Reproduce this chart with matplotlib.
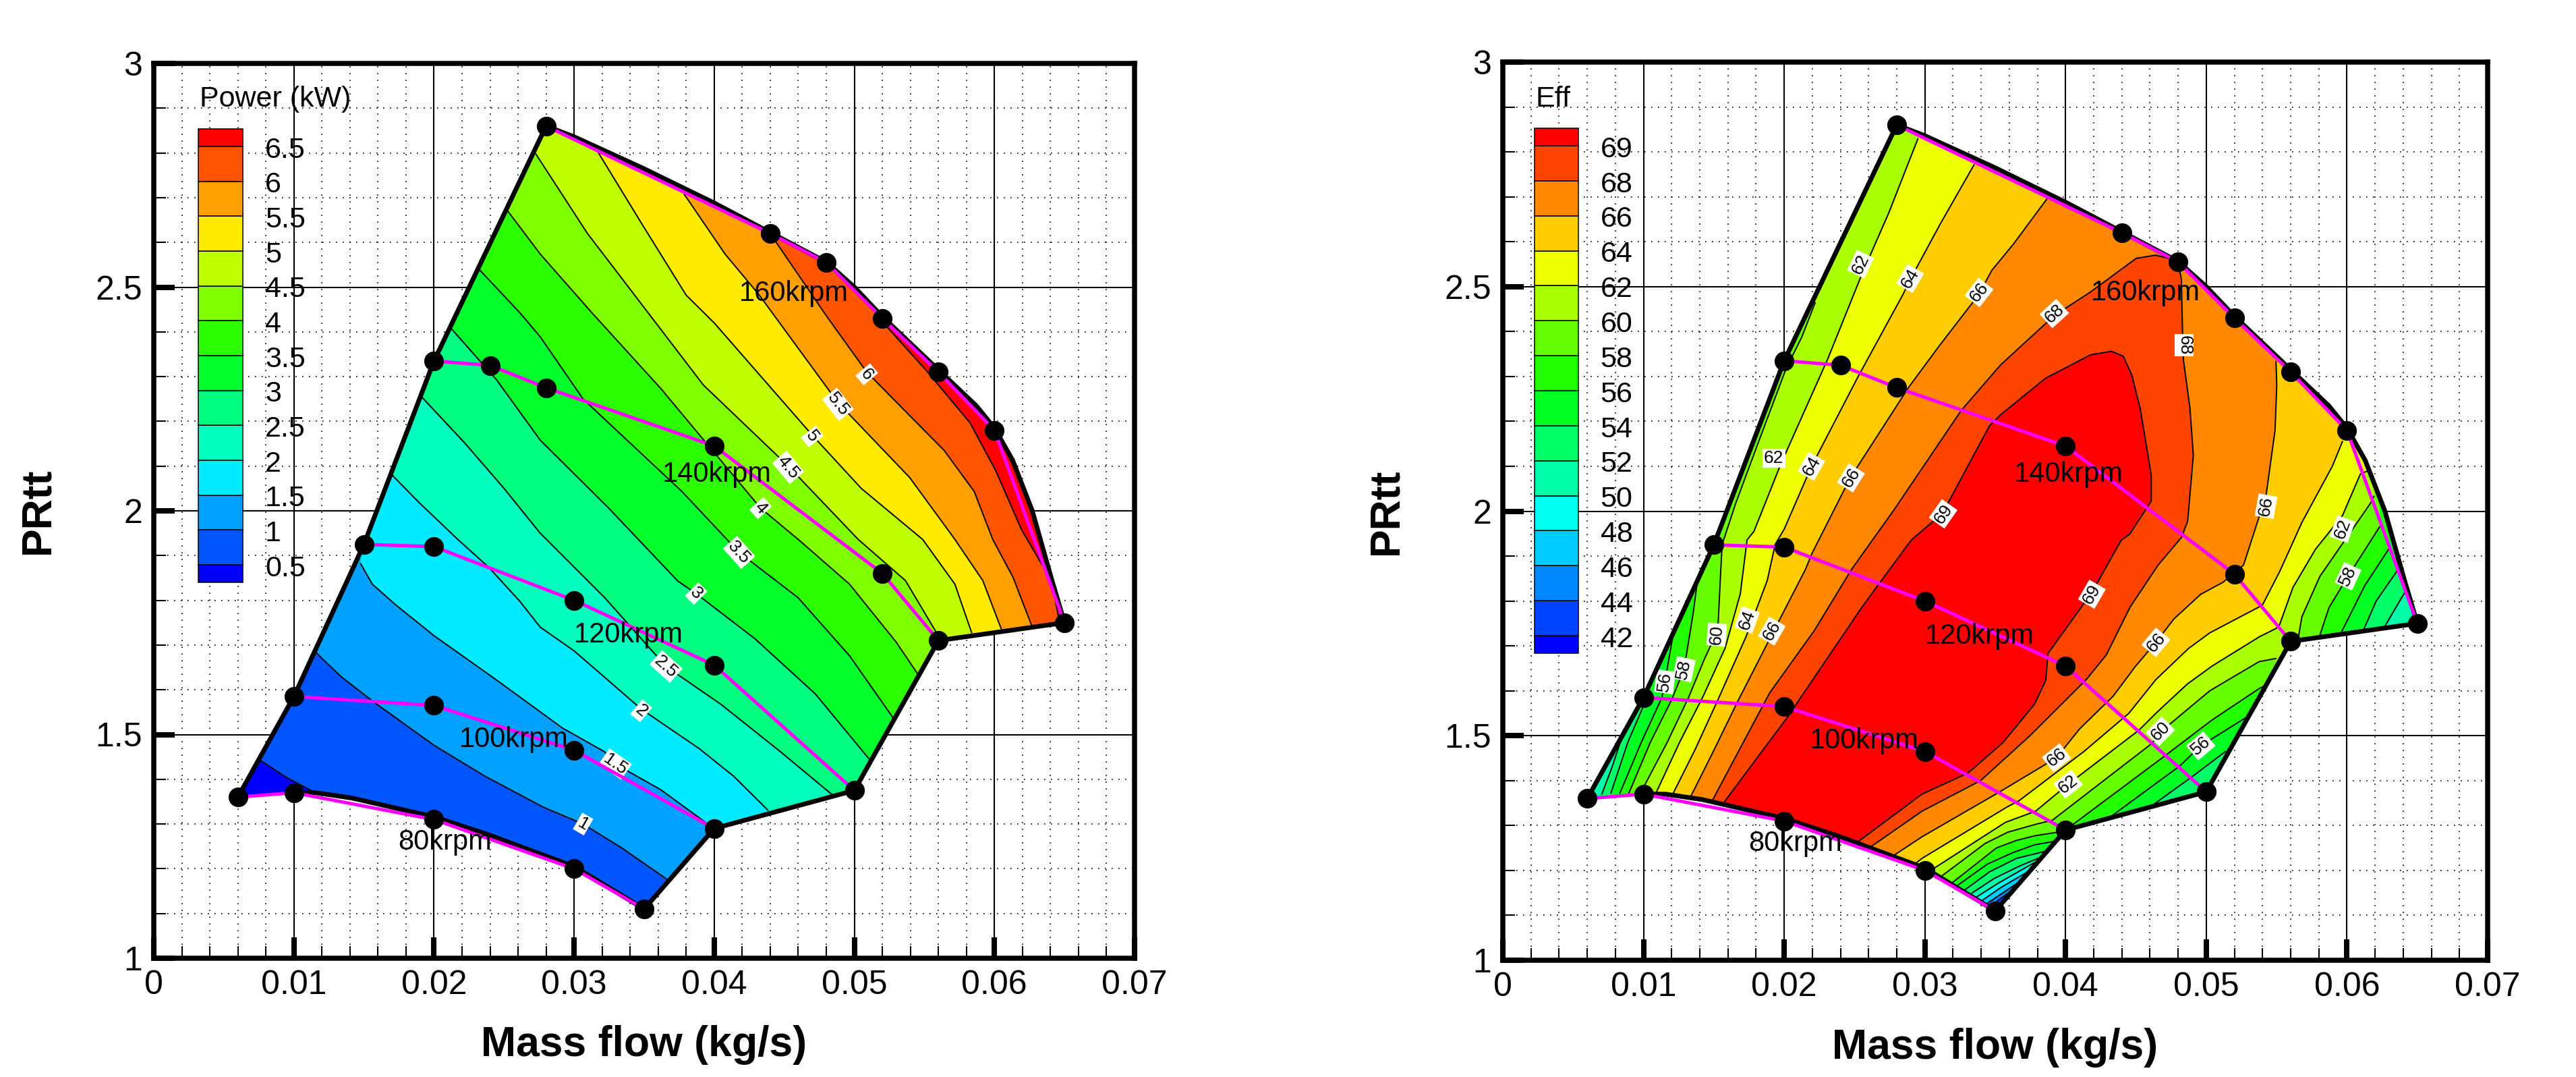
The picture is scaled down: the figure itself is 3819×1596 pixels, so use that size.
import matplotlib
matplotlib.use('Agg')
import matplotlib.pyplot as plt
from matplotlib.patches import Polygon
from matplotlib.ticker import MultipleLocator, FixedLocator, FixedFormatter

plt.rcParams['font.family'] = ['Liberation Sans', 'DejaVu Sans']

WIDTH, HEIGHT = 3819, 1596

# Speed lines (mass flow, PRtt)
SPEED_80 = [(0.006, 1.36), (0.01, 1.37), (0.02, 1.31), (0.03, 1.20), (0.035, 1.11)]
SPEED_100 = [(0.01, 1.585), (0.02, 1.565), (0.03, 1.465), (0.04, 1.29)]
SPEED_120 = [(0.015, 1.925), (0.02, 1.92), (0.03, 1.80), (0.04, 1.655), (0.05, 1.375)]
SPEED_140 = [(0.02, 2.335), (0.024, 2.325), (0.028, 2.275), (0.04, 2.145), (0.052, 1.86), (0.056, 1.71)]
SPEED_160 = [(0.028, 2.86), (0.044, 2.62), (0.048, 2.555), (0.052, 2.43), (0.056, 2.31), (0.06, 2.18), (0.065, 1.75)]
SPEED_NAMES = ['160krpm', '140krpm', '120krpm', '100krpm', '80krpm']
SPEED_NAME_X = [0.0457, 0.0402, 0.0339, 0.0257, 0.0208]
SPEED_NAME_Y = [2.486, 2.082, 1.722, 1.488, 1.26]

# Outline of the map
BOUND_X = [0.006, 0.01, 0.015, 0.02, 0.028, 0.03, 0.0349, 0.04, 0.044, 0.048, 0.05, 0.052, 0.056, 0.0587, 0.06,
           0.0613, 0.0627, 0.0641, 0.065, 0.056, 0.05, 0.04, 0.035, 0.03, 0.0238, 0.02, 0.01415, 0.01155, 0.01]
BOUND_Y = [1.36, 1.585, 1.925, 2.335, 2.86, 2.836, 2.766, 2.688, 2.622, 2.556, 2.5, 2.434, 2.315, 2.235, 2.185,
           2.113, 2.0, 1.845, 1.75, 1.71, 1.375, 1.29, 1.11, 1.205, 1.277, 1.316, 1.358, 1.37, 1.37]

# Power contours
P05 = [(0.00762, 1.442), (0.0095, 1.4035), (0.01158, 1.369)]
P10 = [(0.01158, 1.683), (0.01338, 1.629), (0.01573, 1.572), (0.02, 1.476), (0.02363, 1.407), (0.02778, 1.338),
       (0.03064, 1.30), (0.0334, 1.2465), (0.03669, 1.175)]
P15 = [(0.01476, 1.882), (0.0156, 1.836), (0.01726, 1.79), (0.02, 1.721), (0.02446, 1.622), (0.02917, 1.5145),
       (0.0322, 1.461), (0.03294, 1.434), (0.03617, 1.377), (0.03954, 1.30)]
P20 = [(0.01704, 2.079), (0.01892, 2.019), (0.0217, 1.936), (0.0239, 1.874), (0.02612, 1.798), (0.02758, 1.74),
       (0.03, 1.687), (0.03479, 1.557), (0.03893, 1.4685), (0.04138, 1.407), (0.04383, 1.331)]
P25 = [(0.01914, 2.254), (0.02224, 2.15), (0.025, 2.05), (0.02758, 1.95), (0.03218, 1.806), (0.03656, 1.652),
       (0.04046, 1.568), (0.04475, 1.461), (0.04844, 1.365)]
P30 = [(0.02127, 2.406), (0.02446, 2.293), (0.02758, 2.158), (0.0325, 2.005), (0.0374, 1.843), (0.03871, 1.815),
       (0.04291, 1.714), (0.04721, 1.591), (0.05104, 1.446)]
P35 = [(0.0233, 2.537), (0.02612, 2.443), (0.02758, 2.389), (0.03064, 2.25), (0.0377, 2.043), (0.04178, 1.907),
       (0.04598, 1.806), (0.04966, 1.676), (0.05273, 1.539)]
P40 = [(0.02529, 2.669), (0.02758, 2.574), (0.03126, 2.443), (0.03617, 2.274), (0.04331, 2.006), (0.046, 1.936),
       (0.04966, 1.836), (0.053, 1.706), (0.05451, 1.636)]
P45 = [(0.02728, 2.797), (0.03095, 2.62), (0.03923, 2.281), (0.04528, 2.10), (0.05028, 1.936), (0.05365, 1.844),
       (0.0558, 1.731)]
P50 = [(0.03172, 2.801), (0.03494, 2.636), (0.038, 2.482), (0.04, 2.42), (0.047, 2.169), (0.0505, 2.05),
       (0.05488, 1.936), (0.05718, 1.836), (0.05837, 1.728)]
P55 = [(0.03785, 2.708), (0.04077, 2.574), (0.04322, 2.482), (0.04883, 2.242), (0.05396, 2.074), (0.05718, 1.936),
       (0.05917, 1.844), (0.0605, 1.735)]
P60 = [(0.04399, 2.62), (0.048, 2.436), (0.05089, 2.31), (0.05641, 2.135), (0.05856, 2.043), (0.05988, 1.936),
       (0.06132, 1.852), (0.06264, 1.745)]
P65 = [(0.05196, 2.424), (0.05518, 2.312), (0.05825, 2.197), (0.06009, 2.09), (0.06193, 1.958), (0.06408, 1.843),
       (0.06454, 1.767)]

POWER_TICKS = ['0.5', '1', '1.5', '2', '2.5', '3', '3.5', '4', '4.5', '5', '5.5', '6', '6.5']
POWER_COLORS = ['#0000ff', '#0055ff', '#00a0ff', '#00ebff', '#00ffbf', '#00ff80', '#00ff2b', '#2bff00',
                '#80ff00', '#bfff00', '#ffeb00', '#ffa000', '#ff5500', '#ff0000']
POWER_LINES = [P05, P10, P15, P20, P25, P30, P35, P40, P45, P50, P55, P60, P65]
POWER_LABELS = ['1', '1.5', '2', '2.5', '3', '3.5', '4', '4.5', '5', '5.5', '6']
POWER_LABEL_X = [0.03064, 0.03294, 0.03479, 0.03656, 0.03871, 0.04178, 0.04331, 0.04528, 0.047, 0.04883, 0.05089]
POWER_LABEL_Y = [1.30, 1.434, 1.553, 1.652, 1.815, 1.907, 2.006, 2.097, 2.166, 2.238, 2.305]
POWER_LABEL_ROT = [-30, -35, -40, -42, -45, -48, -48, -50, -52, -52, -50]

# Efficiency contours
E44 = [(0.03612, 1.154), (0.03524, 1.134), (0.03468, 1.117)]
E46 = [(0.03668, 1.174), (0.0354, 1.147), (0.0342, 1.122)]
E48 = [(0.03731, 1.197), (0.0354, 1.162), (0.03388, 1.129)]
E50 = [(0.03787, 1.219), (0.03524, 1.172), (0.03348, 1.137)]
E52_WEDGE = [(0.03827, 1.23), (0.03668, 1.209), (0.03492, 1.182), (0.03308, 1.144)]
E52_LEFT = [(0.00704, 1.37), (0.00776, 1.43), (0.0084, 1.49)]
E52_RIGHT = [(0.06407, 1.817), (0.06272, 1.745)]
E54_WEDGE = [(0.03875, 1.244), (0.03652, 1.227), (0.0346, 1.197), (0.03268, 1.153)]
E54_LEFT = [(0.00768, 1.372), (0.00888, 1.485), (0.00998, 1.565), (0.0101, 1.578)]
E54_RIGHT = [(0.06352, 1.865), (0.06208, 1.80), (0.0612, 1.737)]
E54_LOW = [(0.05137, 1.465), (0.04905, 1.41), (0.04626, 1.347)]
E56_WEDGE = [(0.03923, 1.265), (0.03779, 1.257), (0.0362, 1.239), (0.03444, 1.214), (0.0322, 1.164)]
E56_LEFT = [(0.00832, 1.372), (0.00984, 1.485), (0.01131, 1.585), (0.0116, 1.635), (0.01205, 1.715), (0.01216, 1.733)]
E56_RIGHT = [(0.06296, 1.915), (0.06128, 1.835), (0.0596, 1.73)]
E56_LOW = [(0.0528, 1.54), (0.04961, 1.4775), (0.04809, 1.432), (0.04322, 1.32)]
E58_MID = [(0.0542, 1.612), (0.05376, 1.605), (0.05041, 1.535), (0.04714, 1.457), (0.04051, 1.302), (0.03939, 1.285),
           (0.03779, 1.277), (0.03652, 1.267), (0.03508, 1.25), (0.0318, 1.169)]
E58_LEFT = [(0.00896, 1.372), (0.01048, 1.485), (0.012, 1.58), (0.01288, 1.648), (0.01352, 1.771), (0.01384, 1.846)]
E58_RIGHT = [(0.06232, 1.965), (0.06008, 1.855), (0.05872, 1.785), (0.05808, 1.724)]
E60_MID = [(0.05495, 1.672), (0.05376, 1.665), (0.05025, 1.6), (0.04738, 1.525), (0.04602, 1.48), (0.03907, 1.312),
           (0.03779, 1.302), (0.03588, 1.285), (0.03428, 1.26), (0.03117, 1.187)]
E60_LEFT = [(0.01, 1.385), (0.01168, 1.485), (0.0132, 1.585), (0.01432, 1.67), (0.01528, 1.735), (0.01552, 1.886),
            (0.01559, 1.926), (0.01656, 2.018), (0.01821, 2.157), (0.02014, 2.318), (0.02124, 2.387), (0.0222, 2.464)]
E60_RIGHT = [(0.06192, 2.033), (0.06168, 2.018), (0.05808, 1.855), (0.0568, 1.765), (0.05656, 1.722)]
E62_LEFT = [(0.01088, 1.372), (0.01256, 1.485), (0.01424, 1.588), (0.0158, 1.695), (0.01688, 1.816), (0.01736, 1.936),
            (0.01785, 1.955), (0.01976, 2.105), (0.02311, 2.34), (0.0255, 2.526), (0.02743, 2.664), (0.0295, 2.829)]
E62_RIGHT = [(0.0615, 2.09), (0.06096, 2.083), (0.05968, 1.99), (0.05776, 1.915), (0.05616, 1.83), (0.05521, 1.747),
             (0.05497, 1.739), (0.05376, 1.72), (0.05041, 1.655), (0.04865, 1.615), (0.04642, 1.55), (0.04522, 1.5125),
             (0.04019, 1.392), (0.03787, 1.332), (0.03572, 1.307), (0.03061, 1.204)]
E64_LEFT = [(0.01208, 1.37), (0.01368, 1.47), (0.01536, 1.585), (0.01728, 1.72), (0.0188, 1.846), (0.01936, 1.926),
            (0.02, 1.96), (0.02196, 2.101), (0.02526, 2.30), (0.02845, 2.483), (0.02896, 2.516), (0.0311, 2.64),
            (0.03349, 2.771)]
E64_RIGHT = [(0.05968, 2.155), (0.05896, 2.10), (0.0568, 1.975), (0.05521, 1.865), (0.05401, 1.792), (0.05377, 1.787),
             (0.05025, 1.729), (0.04873, 1.694), (0.04642, 1.625), (0.0445, 1.55), (0.04131, 1.465), (0.03668, 1.355),
             (0.03588, 1.342), (0.0298, 1.227), (0.0292, 1.212)]
E66_LEFT = [(0.01336, 1.365), (0.01496, 1.465), (0.01672, 1.578), (0.01896, 1.715), (0.02152, 1.871), (0.02199, 1.907),
            (0.02471, 2.075), (0.02885, 2.276), (0.03109, 2.371), (0.0338, 2.481), (0.03475, 2.536), (0.0363, 2.595),
            (0.03869, 2.696)]
E66_RIGHT = [(0.05496, 2.333), (0.05501, 2.28), (0.05489, 2.18), (0.05425, 2.035), (0.05265, 1.88), (0.05121, 1.842),
             (0.04961, 1.815), (0.0477, 1.76), (0.04642, 1.708), (0.04498, 1.655), (0.04338, 1.588), (0.04099, 1.515),
             (0.03936, 1.451), (0.03532, 1.375), (0.0298, 1.275), (0.02784, 1.2345)]
E68 = [(0.01488, 1.355), (0.01896, 1.595), (0.02216, 1.735), (0.0248, 1.871), (0.02774, 2.0), (0.0326, 2.225),
       (0.03539, 2.326), (0.03922, 2.436), (0.04177, 2.488), (0.04502, 2.563), (0.04639, 2.57), (0.04798, 2.558),
       (0.04823, 2.516), (0.04832, 2.39), (0.04838, 2.336), (0.04884, 2.23), (0.04908, 2.124), (0.04868, 1.978),
       (0.04825, 1.942), (0.04658, 1.88), (0.04458, 1.786), (0.0429, 1.68), (0.04147, 1.625), (0.03747, 1.5),
       (0.03396, 1.40), (0.0298, 1.332), (0.02624, 1.2545)]
E69 = [(0.01568, 1.35), (0.0202, 1.54), (0.0255, 1.785), (0.0268, 1.841), (0.02904, 1.936), (0.03125, 1.995),
       (0.03459, 2.19), (0.03539, 2.215), (0.03858, 2.296), (0.04177, 2.348), (0.04327, 2.356), (0.0441, 2.345),
       (0.04471, 2.303), (0.04532, 2.226), (0.04609, 2.08), (0.04609, 2.022), (0.04456, 1.949), (0.04395, 1.935),
       (0.04187, 1.819), (0.03875, 1.683), (0.03859, 1.623), (0.03779, 1.57), (0.03556, 1.485), (0.03308, 1.417),
       (0.0298, 1.37), (0.02528, 1.2645)]

EFF_TICKS = ['42', '44', '46', '48', '50', '52', '54', '56', '58', '60', '62', '64', '66', '68', '69']
EFF_COLORS = ['#0000ff', '#0044ff', '#0088ff', '#00ccff', '#00ffee', '#00ffaa', '#00ff66', '#00ff22',
              '#22ff00', '#66ff00', '#aaff00', '#eeff00', '#ffcc00', '#ff8800', '#ff4400', '#ff0000']
# Contours that cut off a low corner, then left side + lower side pairs, then caps around the peak
EFF_CORNERS = [E44, E46, E48, E50]
EFF_SIDES = [(E52_LEFT, [E52_RIGHT, E52_WEDGE]), (E54_LEFT, [E54_RIGHT, E54_LOW, E54_WEDGE]),
             (E56_LEFT, [E56_RIGHT, E56_LOW, E56_WEDGE]), (E58_LEFT, [E58_RIGHT, E58_MID]),
             (E60_LEFT, [E60_RIGHT, E60_MID]), (E62_LEFT, [E62_RIGHT]), (E64_LEFT, [E64_RIGHT]),
             (E66_LEFT, [E66_RIGHT])]
EFF_CAPS = [E68, E69]
EFF_LABELS = ['62', '64', '62', '64', '66', '69', '66', '68', '68', '66', '56', '58', '60', '64', '66', '69', '66',
              '66', '62', '60', '56', '62', '58']
EFF_LABEL_X = [0.02543, 0.02895, 0.01926, 0.02193, 0.02474, 0.0313, 0.03385, 0.0392, 0.04844, 0.05425, 0.01152,
               0.01288, 0.0152, 0.01736, 0.01912, 0.04187, 0.04642, 0.03936, 0.04019, 0.04674, 0.04961, 0.05968, 0.06008]
EFF_LABEL_Y = [2.55, 2.518, 2.118, 2.10, 2.074, 1.994, 2.487, 2.44, 2.37, 2.011, 1.62, 1.648, 1.725, 1.758, 1.733,
               1.815, 1.708, 1.451, 1.392, 1.51, 1.4775, 1.96, 1.855]
EFF_LABEL_ROT = [65, 60, 0, 60, 58, 55, 52, 42, -90, 80, 82, 78, 85, 70, 60, 60, 50, 38, 38, 45, 40, 70, 65]

X_TICKS = [0, 0.01, 0.02, 0.03, 0.04, 0.05, 0.06, 0.07]
X_TICK_LABELS = ['0', '0.01', '0.02', '0.03', '0.04', '0.05', '0.06', '0.07']
Y_TICKS = [1, 1.5, 2, 2.5, 3]
Y_TICK_LABELS = ['1', '1.5', '2', '2.5', '3']

# Far outside the map, only used to close fill regions that get clipped to the outline
FAR_LOW, FAR_HIGH, FAR_LEFT, FAR_RIGHT = 0.5, 4, -0.1, 0.2


def px_box(left, top, right, bottom):
    return [left / WIDTH, 1 - bottom / HEIGHT, (right - left) / WIDTH, (bottom - top) / HEIGHT]


def above_line(pts):
    """Region on the high side of a contour running from upper left to lower right"""
    return pts + [(pts[-1][0], FAR_LOW), (FAR_RIGHT, FAR_LOW), (FAR_RIGHT, FAR_HIGH), (pts[0][0], FAR_HIGH)]


def off_corner(pts):
    """Everything except the corner that the contour cuts off"""
    return [(FAR_RIGHT, FAR_HIGH), (FAR_RIGHT, FAR_LOW), (pts[0][0], FAR_LOW)] + pts + \
        [(pts[-1][0], FAR_LOW), (FAR_LEFT, FAR_LOW), (FAR_LEFT, FAR_HIGH)]


def between_sides(left, lower_parts):
    """Region right of the left contour and above the lower pieces"""
    path = left + [(left[-1][0], FAR_HIGH), (lower_parts[0][0][0], FAR_HIGH)]
    for i, part in enumerate(lower_parts):
        if i > 0:
            path.append((part[0][0], FAR_LOW))
        path += part + [(part[-1][0], FAR_LOW)]
    path.append((left[0][0], FAR_LOW))
    return path


def under_cap(pts):
    """Region enclosed by a contour with both ends on the lower edge"""
    return pts + [(pts[-1][0], FAR_LOW), (pts[0][0], FAR_LOW)]


def draw_legend(fig, box, title, title_xy, colors, ticks):
    """Stacked colour cells with half height end cells"""
    cax = fig.add_axes(px_box(*box))
    cax.set_axis_off()
    cax.set_xlim(0, 1)
    cax.set_ylim(0, len(ticks))
    bottom = 0
    for i, color in enumerate(colors):
        h = 0.5 if i in (0, len(colors) - 1) else 1
        cax.bar(0.5, h, width=1, bottom=bottom, color=color, edgecolor='black', linewidth=1.1, clip_on=False)
        bottom += h
    for i, tick in enumerate(ticks):
        cax.text(1.5, i + 0.5 - 0.11, tick, fontsize=31, ha='left', va='center', clip_on=False)
    fig.text(title_xy[0] / WIDTH, 1 - title_xy[1] / HEIGHT, title, fontsize=31, ha='left', va='center')


def draw_panel(fig, box, regions, colors, lines, labels, label_x, label_y, label_rot):
    ax = fig.add_axes(px_box(*box))
    ax.set_xlim(0, 0.07)
    ax.set_ylim(1, 3)

    # Paint the bands from low to high, each clipped to the outline
    outline = Polygon(list(zip(BOUND_X, BOUND_Y)), closed=True, facecolor=colors[0], edgecolor='none', zorder=2)
    ax.add_patch(outline)
    for region, color in zip(regions, colors[1:]):
        band = Polygon(region, closed=True, facecolor=color, edgecolor='none', zorder=2)
        ax.add_patch(band)
        band.set_clip_path(outline)

    for pts in lines:
        ax.plot([p[0] for p in pts], [p[1] for p in pts], color='black', linewidth=1.4, zorder=3)
    for text, x, y, rot in zip(labels, label_x, label_y, label_rot):
        ax.text(x, y, text, fontsize=19, rotation=rot, rotation_mode='anchor', ha='center', va='center', zorder=4,
                bbox=dict(facecolor='white', edgecolor='none', pad=1.5))

    # Outline stays open along the first part of the 80krpm line
    ax.plot(BOUND_X, BOUND_Y, color='black', linewidth=5, solid_joinstyle='round', zorder=5)
    for speed in [SPEED_80, SPEED_100, SPEED_120, SPEED_140, SPEED_160]:
        sx = [p[0] for p in speed]
        sy = [p[1] for p in speed]
        ax.plot(sx, sy, color='#ff00ff', linewidth=3.6, zorder=6)
        ax.plot(sx, sy, linestyle='none', marker='o', markersize=20, color='black', zorder=7)
    for name, x, y in zip(SPEED_NAMES, SPEED_NAME_X, SPEED_NAME_Y):
        ax.text(x, y, name, fontsize=30, ha='center', va='center', zorder=8)

    ax.xaxis.set_major_locator(FixedLocator(X_TICKS))
    ax.xaxis.set_major_formatter(FixedFormatter(X_TICK_LABELS))
    ax.yaxis.set_major_locator(FixedLocator(Y_TICKS))
    ax.yaxis.set_major_formatter(FixedFormatter(Y_TICK_LABELS))
    ax.xaxis.set_minor_locator(MultipleLocator(0.002))
    ax.yaxis.set_minor_locator(MultipleLocator(0.1))
    ax.tick_params(which='major', direction='in', length=22, width=5.8, labelsize=36)
    ax.tick_params(which='minor', direction='in', length=13, width=1.5)
    ax.tick_params(axis='x', which='major', pad=12)
    ax.tick_params(axis='y', which='major', pad=12)

    ax.set_axisbelow(True)
    ax.grid(True, which='major', color='black', linewidth=1.5)
    ax.grid(True, which='minor', color='black', linewidth=1.2, linestyle=(0, (1, 5)))
    for spine in ax.spines.values():
        spine.set_linewidth(5.4)
        spine.set_zorder(10)

    ax.set_xlabel('Mass flow (kg/s)', fontsize=45, fontweight='bold')
    ax.set_ylabel('PRtt', fontsize=45, fontweight='bold')
    ax.xaxis.set_label_coords(0.5, -0.075)
    ax.yaxis.set_label_coords(-0.0984, 0.5)
    return ax


fig = plt.figure(figsize=(WIDTH / 100, HEIGHT / 100), dpi=100)

power_regions = [above_line(pts) for pts in POWER_LINES]
draw_panel(fig, (228, 94, 1682, 1420), power_regions, POWER_COLORS, POWER_LINES,
           POWER_LABELS, POWER_LABEL_X, POWER_LABEL_Y, POWER_LABEL_ROT)

eff_regions = [off_corner(pts) for pts in EFF_CORNERS]
eff_regions += [between_sides(left, lower) for left, lower in EFF_SIDES]
eff_regions += [under_cap(pts) for pts in EFF_CAPS]
eff_lines = list(EFF_CORNERS) + list(EFF_CAPS)
for left, lower in EFF_SIDES:
    eff_lines += [left] + lower
# No contour at 42 inside the map, the tip starts from the 42-44 colour
draw_panel(fig, (2228, 92, 3688, 1423), eff_regions, EFF_COLORS[1:], eff_lines,
           EFF_LABELS, EFF_LABEL_X, EFF_LABEL_Y, EFF_LABEL_ROT)

draw_legend(fig, (294, 191, 360, 863), 'Power (kW)', (296, 147), POWER_COLORS, POWER_TICKS)
draw_legend(fig, (2275, 190, 2340, 968), 'Eff', (2277, 147), EFF_COLORS, EFF_TICKS)

fig.savefig('out.png', dpi=100, facecolor='white')
